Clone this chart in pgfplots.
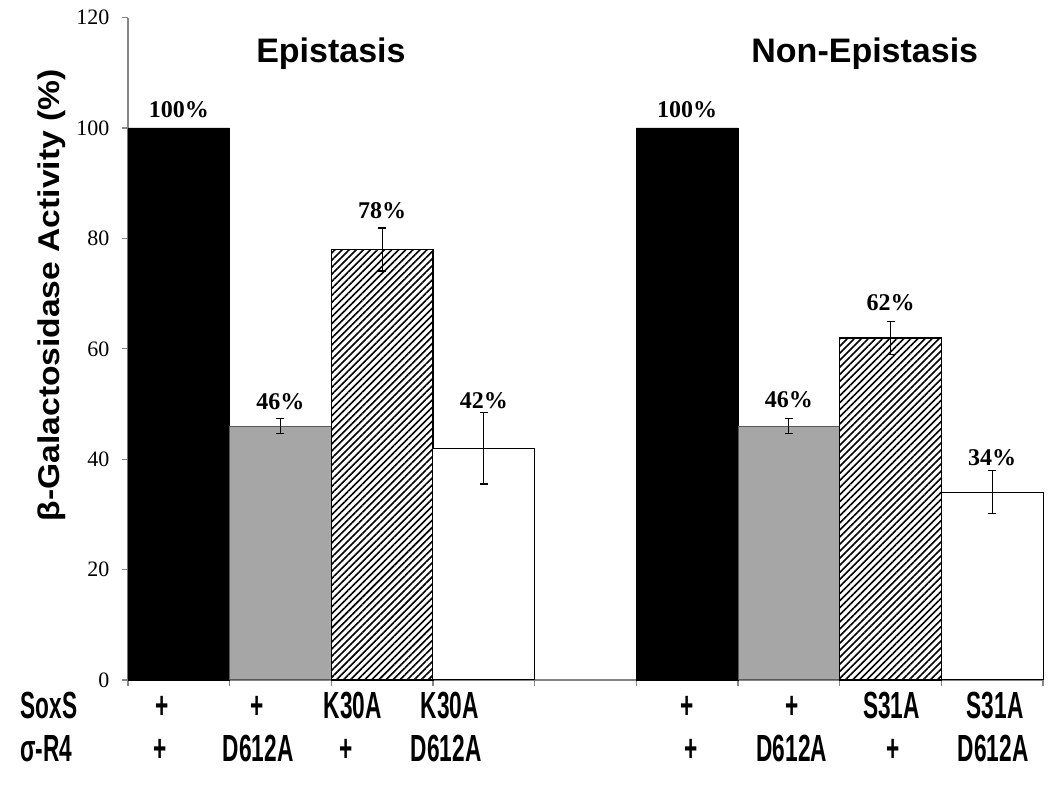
\documentclass[border=0pt]{standalone}
\usepackage{fontspec}
\setmainfont{Liberation Serif}
\newfontfamily\sansb{Liberation Sans Bold}
\newfontfamily\sansnarrow[FakeStretch=0.6]{Liberation Sans Bold}
\newfontfamily\sanswide[FakeStretch=1.12]{Liberation Sans Bold}
\newfontfamily\serifb{Liberation Serif Bold}
\usepackage{pgfplots}
\pgfplotsset{compat=1.18}
\usetikzlibrary{patterns.meta}
\definecolor{axgray}{RGB}{134,134,134}
\definecolor{bargray}{RGB}{166,166,166}
\begin{document}
\begin{tikzpicture}
\useasboundingbox (-64pt,-58.5pt) rectangle (461pt,340pt);
\begin{axis}[
  at={(0,0)}, anchor=south west,
  scale only axis, width=457.5pt, height=331.2pt,
  xmin=-0.5, xmax=8.5, ymin=0, ymax=120,
  axis x line=bottom, axis y line=left,
  axis line style={-, axgray, line width=0.6pt},
  tick style={axgray, line width=0.6pt},
  tick align=outside, major tick length=2.8pt,
  xtick={-0.5,0.5,...,8.5}, xticklabels={},
  ytick={0,20,...,120},
  yticklabel style={font=\fontsize{11}{11}\selectfont, xshift=-3pt},
  /pgf/number format/assume math mode=true,
  clip=false,
  error bars/error bar style={black, line width=0.6pt},
]
\addplot[ybar, bar width=1, bar shift=0, fill=black, draw=black] coordinates {(0,100) (5,100)};
\addplot[ybar, bar width=1, bar shift=0, fill=bargray, draw=gray!70!black, line width=0.5pt,
  error bars/.cd, y dir=both, y explicit,
  error mark options={rotate=90, mark size=2pt, black, line width=0.6pt}]
  coordinates {(1,46) +- (0,1.4) (6,46) +- (0,1.4)};
\addplot[ybar, bar width=1, bar shift=0, draw=black, line width=0.8pt,
  pattern={Lines[angle=45,distance=2.5pt,line width=0.8pt]}, pattern color=black,
  error bars/.cd, y dir=both, y explicit,
  error mark options={rotate=90, mark size=2pt, black, line width=0.6pt}]
  coordinates {(2,78) +- (0,3.9) (7,62) +- (0,3)};
\addplot[ybar, bar width=1, bar shift=0, fill=white, draw=black, line width=0.5pt,
  error bars/.cd, y dir=both, y explicit,
  error mark options={rotate=90, mark size=2pt, black, line width=0.6pt}]
  coordinates {(3,42) +- (0,6.5) (8,34) +- (0,3.9)};
% value labels
\begin{scope}[every node/.style={font=\serifb\fontsize{12}{12}\selectfont}]
\node at (axis cs:0,103.3) {100\%};
\node at (axis cs:1,50.4) {46\%};
\node at (axis cs:2,85.0) {78\%};
\node at (axis cs:3,50.6) {42\%};
\node at (axis cs:5,103.3) {100\%};
\node at (axis cs:6,50.8) {46\%};
\node at (axis cs:7,68.3) {62\%};
\node at (axis cs:8,40.3) {34\%};
\end{scope}
% titles
\node[anchor=base, font=\sansb\fontsize{17}{17}\selectfont] at (axis cs:1.496,111.8) {Epistasis};
\node[anchor=base, font=\sansb\fontsize{17}{17}\selectfont] at (axis cs:6.747,111.8) {Non-Epistasis};
% y label
\node[rotate=90, anchor=base, font=\sanswide\fontsize{15}{15}\selectfont] at (axis cs:-1.169,69.7) {β-Galactosidase Activity (\%)};
% category rows
\begin{scope}[every node/.style={anchor=base, inner sep=0pt, font=\sansnarrow\fontsize{18.9}{18.9}\selectfont}]
\node[anchor=base west] at (axis cs:-1.562,-6.97) {SoxS};
\node[anchor=base west] at (axis cs:-1.562,-14.76) {σ-R4};
\node at (axis cs:-0.166,-6.97) {+};
\node at (axis cs:0.768,-6.97) {+};
\node at (axis cs:1.712,-6.97) {K30A};
\node at (axis cs:2.666,-6.97) {K30A};
\node at (axis cs:-0.185,-14.76) {+};
\node at (axis cs:0.781,-14.76) {D612A};
\node at (axis cs:1.65,-14.76) {+};
\node at (axis cs:2.63,-14.76) {D612A};
\node at (axis cs:4.997,-6.97) {+};
\node at (axis cs:6.03,-6.97) {+};
\node at (axis cs:7.01,-6.97) {S31A};
\node at (axis cs:8.03,-6.97) {S31A};
\node at (axis cs:5.04,-14.76) {+};
\node at (axis cs:6.03,-14.76) {D612A};
\node at (axis cs:7.03,-14.76) {+};
\node at (axis cs:8.01,-14.76) {D612A};
\end{scope}
\end{axis}
\end{tikzpicture}
\end{document}
